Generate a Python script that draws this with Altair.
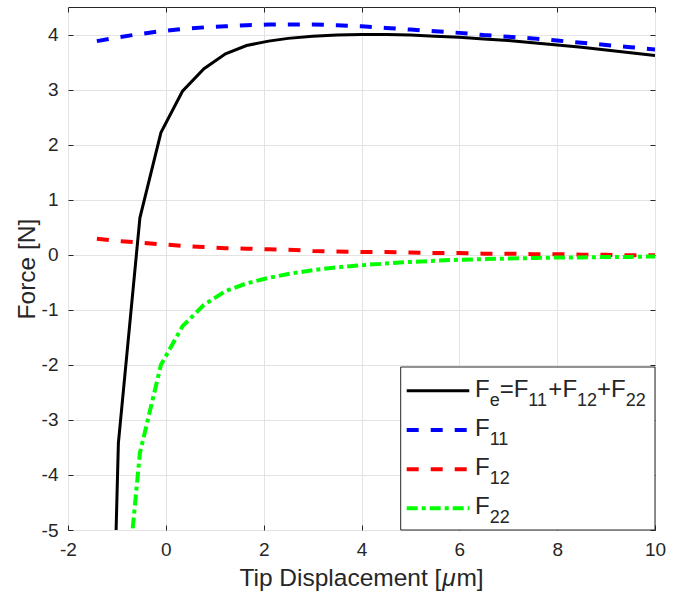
import altair as alt
import pandas as pd

# ---- data ----
x_um = [-1.41, -0.97, -0.53, -0.10, 0.34, 0.78, 1.22, 1.65, 2.1, 2.5, 3.0, 3.5,
        4.0, 4.5, 5.0, 5.5, 6.0, 6.5, 7.0, 7.5, 8.0, 8.5, 9.0, 9.5, 10.0]
F_e = [-18.3, -3.42, 0.67, 2.22, 2.97, 3.38, 3.65, 3.80, 3.88, 3.93, 3.97, 3.99,
       4.00, 4.00, 3.99, 3.97, 3.95, 3.92, 3.89, 3.85, 3.81, 3.77, 3.72, 3.67, 3.62]
F_11 = [3.88, 3.95, 4.01, 4.06, 4.10, 4.13, 4.15, 4.17, 4.18, 4.18, 4.18, 4.17,
        4.15, 4.12, 4.09, 4.06, 4.03, 3.99, 3.96, 3.93, 3.89, 3.85, 3.81, 3.77, 3.73]
F_12 = [0.29, 0.25, 0.22, 0.19, 0.16, 0.14, 0.12, 0.11, 0.10, 0.09, 0.07, 0.06,
        0.05, 0.05, 0.04, 0.03, 0.03, 0.02, 0.02, 0.01, 0.01, 0.00, 0.00, -0.01, -0.01]
F_22 = [-22.5, -7.7, -3.6, -2.0, -1.30, -0.91, -0.66, -0.52, -0.42, -0.35, -0.28, -0.23,
        -0.19, -0.16, -0.13, -0.11, -0.09, -0.08, -0.07, -0.06, -0.05, -0.05, -0.04, -0.04, -0.03]

x_ticks = [-2, 0, 2, 4, 6, 8, 10]
y_ticks = [-5, -4, -3, -2, -1, 0, 1, 2, 3, 4]
x_domain = [-2, 10]
y_domain = [-5, 4.5]
x_title_parts = ["Tip Displacement [", "μ", "m]"]
y_title = "Force [N]"

df = pd.DataFrame({"x": x_um, "Fe": F_e, "F11": F_11, "F12": F_12, "F22": F_22})

# ---- layout / style ----
W, H = 587, 523
FONT = "Liberation Sans, Arial, Helvetica, sans-serif"
AXC = "#262626"
GRIDC = "#e3e3e3"
TICKFS = 19
TITLEFS = 24.5
LEGFS = 24
SUBFS = 18

xs = alt.Scale(domain=x_domain, nice=False, zero=False)
ys = alt.Scale(domain=y_domain, nice=False, zero=False)
LBL = "'' + datum.value"

grid_x = alt.Axis(orient="bottom", values=x_ticks, grid=True, gridColor=GRIDC, gridWidth=1,
                  ticks=False, labels=False, domain=False)
grid_y = alt.Axis(orient="left", values=y_ticks, grid=True, gridColor=GRIDC, gridWidth=1,
                  ticks=False, labels=False, domain=False)

main_x = alt.Axis(orient="bottom", values=x_ticks, grid=False, domain=False, offset=-5,
                  ticks=True, tickSize=5, tickColor=AXC, tickWidth=1,
                  labelFontSize=TICKFS, labelColor=AXC, labelFont=FONT, labelPadding=10,
                  labelFlush=False, labelOverlap=False, labelExpr=LBL)
main_y = alt.Axis(orient="left", values=y_ticks, grid=False, domain=False, offset=-5,
                  ticks=True, tickSize=5, tickColor=AXC, tickWidth=1,
                  labelFontSize=TICKFS, labelColor=AXC, labelFont=FONT, labelPadding=10,
                  labelFlush=False, labelOverlap=False, labelExpr=LBL,
                  titleFont=FONT, titleFontSize=TITLEFS, titleColor=AXC,
                  titleFontWeight="normal", titlePadding=2)

top_x = alt.Axis(orient="top", values=x_ticks, grid=False, domain=False, offset=-5,
                 ticks=True, tickSize=5, tickColor=AXC, tickWidth=1, labels=False)
right_y = alt.Axis(orient="right", values=y_ticks, grid=False, domain=False, offset=-5,
                   ticks=True, tickSize=5, tickColor=AXC, tickWidth=1, labels=False)

base = alt.Chart(df)

black = base.mark_line(color="#000000", strokeWidth=3, clip=True).encode(
    x=alt.X("x:Q", scale=xs, axis=grid_x, title=None),
    y=alt.Y("Fe:Q", scale=ys, axis=grid_y, title=None))
blue = base.mark_line(color="#0000ff", strokeWidth=4, strokeDash=[12, 12], clip=True).encode(
    x=alt.X("x:Q", scale=xs, axis=main_x, title=None),
    y=alt.Y("F11:Q", scale=ys, axis=main_y, title=y_title))
red = base.mark_line(color="#ff0000", strokeWidth=4, strokeDash=[12, 12], clip=True).encode(
    x=alt.X("x:Q", scale=xs, axis=top_x, title=None),
    y=alt.Y("F12:Q", scale=ys, axis=right_y, title=None))
green = base.mark_line(color="#00ff00", strokeWidth=4, strokeDash=[11, 4, 4, 4], clip=True).encode(
    x=alt.X("x:Q", scale=xs, axis=None),
    y=alt.Y("F22:Q", scale=ys, axis=None))

one = pd.DataFrame({"k": [0]})

# ---- x-axis title with italic mu (as in the TeX-rendered original) ----
ADV = {"F": 0.611, "e": 0.556, "=": 0.584, "+": 0.584, "0": 0.556, "1": 0.556, "2": 0.556,
       "T": 0.611, "i": 0.222, "p": 0.556, " ": 0.278, "D": 0.722, "s": 0.5, "l": 0.222,
       "a": 0.556, "c": 0.5, "m": 0.833, "n": 0.556, "t": 0.278, "[": 0.278, "]": 0.278,
       "μ": 0.576}
widths = [sum(ADV[c] for c in p) * TITLEFS for p in x_title_parts]
tx = W / 2 - sum(widths) / 2
TBASE = 578.5
title_layers = []
for part, wdt, style in zip(x_title_parts, widths, ["normal", "italic", "normal"]):
    title_layers.append(alt.Chart(one).mark_text(
        align="left", baseline="alphabetic", font=FONT, fontSize=TITLEFS,
        fontStyle=style, color=AXC).encode(
        x=alt.value(tx), y=alt.value(TBASE), text=alt.value(part)))
    tx += wdt

# ---- manual legend (MATLAB-like, with subscripts) ----
LX0, LX1, LY0, LY1 = 332.7, 587, 360, 523
legend_layers = [
    alt.Chart(one).mark_rect(fill="white", stroke=AXC, strokeWidth=1).encode(
        x=alt.value(LX0), x2=alt.value(LX1), y=alt.value(LY0), y2=alt.value(LY1))
]
row_y = [383.7, 423.0, 462.3, 501.3]
styles = [("#000000", 3, None), ("#0000ff", 4, [12, 12]),
          ("#ff0000", 4, [12, 12]), ("#00ff00", 4, [11, 4, 4, 4])]
for (col, sw, dash), yy in zip(styles, row_y):
    kw = dict(color=col, strokeWidth=sw)
    if dash:
        kw["strokeDash"] = dash
    legend_layers.append(alt.Chart(one).mark_rule(**kw).encode(
        x=alt.value(338.7), x2=alt.value(401.3), y=alt.value(yy)))

labels = [
    [("F", 0), ("e", 1), ("=F", 0), ("11", 1), ("+F", 0), ("12", 1), ("+F", 0), ("22", 1)],
    [("F", 0), ("11", 1)],
    [("F", 0), ("12", 1)],
    [("F", 0), ("22", 1)],
]
for pieces, yy in zip(labels, row_y):
    cx = 407.0
    for txt, sub in pieces:
        fs = SUBFS if sub else LEGFS
        by = yy + 6 + (9 if sub else 0)
        legend_layers.append(alt.Chart(one).mark_text(
            align="left", baseline="alphabetic", font=FONT, fontSize=fs, color=AXC).encode(
            x=alt.value(cx), y=alt.value(by), text=alt.value(txt)))
        cx += sum(ADV[c] for c in txt) * fs

chart = alt.layer(black, blue, red, green, *title_layers, *legend_layers).resolve_axis(
    x="independent", y="independent"
).properties(
    width=W, height=H,
    padding={"left": 68, "top": 7, "right": 36, "bottom": 68},
    autosize=alt.AutoSizeParams(type="none"),
    background="white",
).configure_view(stroke=AXC, strokeWidth=1)

chart.save("out.html", embed_options={"renderer": "svg", "actions": False})
